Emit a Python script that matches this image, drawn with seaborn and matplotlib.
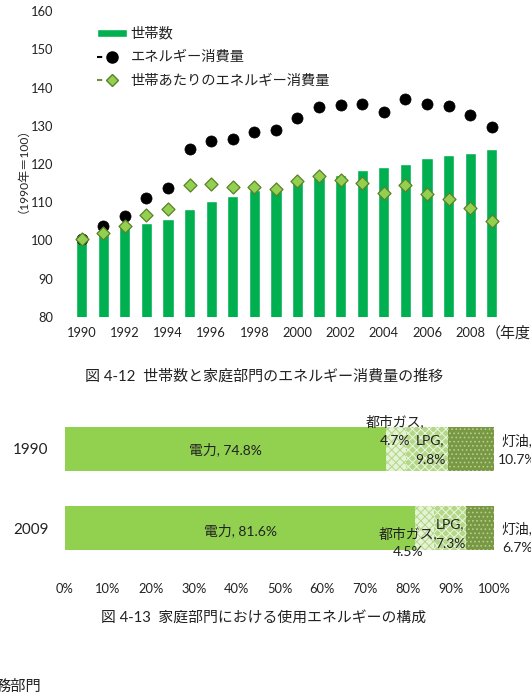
import numpy as np
import pandas as pd
import matplotlib
matplotlib.use("Agg")
import matplotlib.pyplot as plt
from matplotlib.lines import Line2D
from matplotlib.patches import Patch
import seaborn as sns

# --- data: fig 4-12 (1990 = 100) ---
years = [1990, 1991, 1992, 1993, 1994, 1995, 1996, 1997, 1998, 1999,
         2000, 2001, 2002, 2003, 2004, 2005, 2006, 2007, 2008, 2009]
households = [100.0, 102.2, 103.9, 104.5, 105.7, 108.3, 110.3, 111.7, 113.2, 113.5,
              115.7, 116.5, 117.2, 118.5, 119.3, 119.9, 121.5, 122.3, 123.0, 123.8]
energy = [100.3, 103.7, 106.5, 111.0, 113.8, 123.8, 126.0, 126.6, 128.3, 129.0,
          132.0, 135.0, 135.5, 135.7, 133.7, 137.0, 135.8, 135.1, 132.8, 129.6]
per_household = [100.3, 101.9, 103.7, 106.7, 108.3, 114.6, 114.8, 113.9, 113.9, 113.5,
                 115.5, 116.8, 115.8, 115.0, 112.4, 114.5, 112.2, 110.9, 108.4, 105.2]
xtick_years = [1990, 1992, 1994, 1996, 1998, 2000, 2002, 2004, 2006, 2008]

# --- data: fig 4-13 (share %) ---
comp_years = ["1990", "2009"]
sources = ["電力", "都市ガス", "LPG", "灯油"]
share_1990 = [74.8, 4.7, 9.8, 10.7]
share_2009 = [81.6, 4.5, 7.3, 6.7]

sns.set_style("white")
plt.rcParams["font.family"] = ["Lato", "Noto Sans CJK JP", "DejaVu Sans"]
plt.rcParams["hatch.linewidth"] = 0.7
plt.rcParams["text.color"] = "#222222"
plt.rcParams["xtick.color"] = "#222222"
plt.rcParams["ytick.color"] = "#222222"

fig = plt.figure(figsize=(5.31, 6.97), dpi=100)

# ---------------- chart 1 ----------------
ax1 = fig.add_axes([0.1294, 0.5452, 0.821, 0.439])
sns.barplot(x=years, y=households, native_scale=True, color="#00B050",
            saturation=1, width=0.52, errorbar=None, ax=ax1)
sns.scatterplot(x=years, y=energy, color="black", s=64, edgecolor="black",
                linewidth=0.5, zorder=3, ax=ax1)
sns.scatterplot(x=years, y=per_household, marker="D", s=44, color="#92D050",
                edgecolor="#5F7F2A", linewidth=0.9, zorder=4, ax=ax1)

ax1.set_xlim(1989.4, 2009.6)
ax1.set_ylim(80, 160)
ax1.set_yticks(range(80, 161, 10))
ax1.set_xticks(xtick_years)
ax1.set_xticklabels([str(y) for y in xtick_years])
ax1.tick_params(axis="both", length=0, labelsize=9.3)
ax1.tick_params(axis="y", pad=11)
ax1.tick_params(axis="x", pad=7)
ax1.set_ylabel("（1990年＝100）", fontsize=8.7, labelpad=6)
ax1.set_xlabel("")
sns.despine(ax=ax1, left=True, bottom=True)
ax1.text(2008.7, -0.052, "（年度）", transform=ax1.get_xaxis_transform(),
         ha="left", va="center", fontsize=10.8)

handles = [
    Patch(facecolor="#00B050", label="世帯数"),
    Line2D([], [], color="black", linestyle=(0, (2.5, 30)), linewidth=1.5,
           marker="o", markersize=8, label="エネルギー消費量"),
    Line2D([], [], color="#6F8F3A", linestyle=(0, (2.5, 30)), linewidth=1.5,
           marker="D", markersize=6.5, markerfacecolor="#92D050",
           markeredgecolor="#5F7F2A", label="世帯あたりのエネルギー消費量"),
]
ax1.legend(handles=handles, loc="upper left", bbox_to_anchor=(0.065, 0.951),
           frameon=False, fontsize=10.3, borderpad=0, borderaxespad=0,
           handlelength=2.1, handleheight=0.5, handletextpad=0.25,
           labelspacing=0.72)

fig.text(0.497, 1 - 377 / 697, "図 4-12  世帯数と家庭部門のエネルギー消費量の推移",
         ha="center", va="center", fontsize=10.8)

# ---------------- chart 2 ----------------
ax2 = fig.add_axes([0.1224, 0.1736, 0.8079, 0.251])
comp = pd.DataFrame([share_1990, share_2009], columns=sources)
comp.insert(0, "年", comp_years)
cum = comp[sources].cumsum(axis=1)

styles = {
    "電力": dict(color="#92D050", hatch=None, edgecolor="#92D050"),
    "都市ガス": dict(color="#E6F2D6", hatch="xxxx", edgecolor="#B0D884"),
    "LPG": dict(color="#B3D887", hatch="xxxx", edgecolor="#EDF6E2"),
    "灯油": dict(color="#789843", hatch="....", edgecolor="#B7CE92"),
}
for src in reversed(sources):
    st = styles[src]
    sns.barplot(x=cum[src], y=comp["年"], orient="h", color=st["color"],
                hatch=st["hatch"], edgecolor=st["edgecolor"], linewidth=0,
                saturation=1, width=0.553, errorbar=None, ax=ax2)

ax2.set_xlim(0, 100)
ax2.set_ylim(1.6, -0.6)
ax2.set_xticks(range(0, 101, 10))
ax2.set_xticklabels([f"{v}%" for v in range(0, 101, 10)])
ax2.tick_params(axis="x", length=0, labelsize=9.3, pad=5)
ax2.tick_params(axis="y", length=0, labelsize=11, pad=12)
ax2.set_xlabel("")
ax2.set_ylabel("")
sns.despine(ax=ax2, left=True, bottom=True)

# data labels (offsets from segment centres)
label_offsets = {
    "1990": {"電力": (0, 0), "都市ガス": (-0.3, -0.22), "LPG": (0.7, 0.02), "灯油": (None, 0.02)},
    "2009": {"電力": (0, 0.02), "都市ガス": (-3.9, 0.18), "LPG": (0, 0.07), "灯油": (None, 0.125)},
}
for row, yr in enumerate(comp_years):
    vals = comp.loc[row, sources].values.astype(float)
    ends = np.cumsum(vals)
    starts = ends - vals
    for i, src in enumerate(sources):
        dx, dy = label_offsets[yr][src]
        if dx is None:
            xpos = ends[-1] + 5.3
        else:
            xpos = (starts[i] + ends[i]) / 2 + dx
        if src == "電力":
            ax2.text(xpos, row + dy, f"{src}, {vals[i]:.1f}%", ha="center",
                     va="center", fontsize=10)
        else:
            # two-line label, each line as its own text
            for line, off in ((f"{src},", 7), (f"{vals[i]:.1f}%", -7)):
                ax2.annotate(line, xy=(xpos, row + dy), xytext=(0, off),
                             textcoords="offset points", ha="center",
                             va="center", fontsize=10, annotation_clip=False)

fig.text(0.497, 1 - 618 / 697, "図 4-13  家庭部門における使用エネルギーの構成",
         ha="center", va="center", fontsize=10.7)
fig.text(-0.008, 1 - 687 / 697, "務部門", ha="left", va="center", fontsize=11)

fig.savefig("out.png", dpi=100)
